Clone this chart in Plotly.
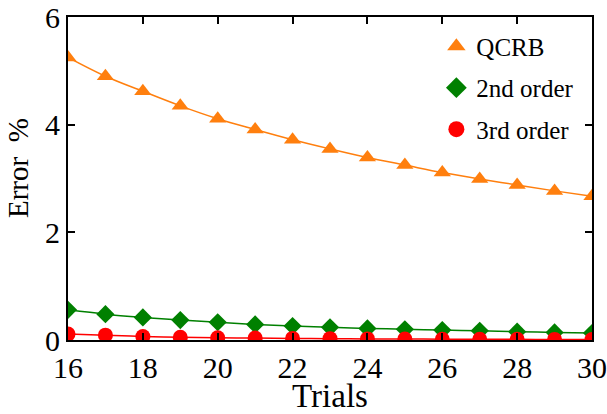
import plotly.graph_objects as go

trials = [16, 17, 18, 19, 20, 21, 22, 23, 24, 25, 26, 27, 28, 29, 30]
qcrb = [5.25, 4.90, 4.62, 4.35, 4.11, 3.91, 3.72, 3.55, 3.39, 3.25, 3.11, 2.99, 2.88, 2.77, 2.67]
second_order = [0.56, 0.48, 0.42, 0.37, 0.33, 0.29, 0.26, 0.235, 0.215, 0.20, 0.185, 0.17, 0.155, 0.14, 0.13]
third_order = [0.11, 0.09, 0.065, 0.05, 0.04, 0.035, 0.03, 0.025, 0.02, 0.018, 0.015, 0.013, 0.012, 0.011, 0.01]

x_ticks = [16, 18, 20, 22, 24, 26, 28, 30]
y_ticks = [0, 2, 4, 6]

ORANGE = "#ff7f0e"
GREEN = "#008000"
RED = "#ff0000"
FONT = "Liberation Serif"

fig = go.Figure()

series = [
    ("QCRB", qcrb, ORANGE, "triangle-up", 15),
    ("2nd order", second_order, GREEN, "diamond", 14),
    ("3rd order", third_order, RED, "circle", 15),
]

for name, vals, col, sym, sz in series:
    fig.add_trace(go.Scatter(
        x=trials, y=vals, mode="lines", line=dict(color=col, width=1.5, shape="spline"),
        showlegend=False, hoverinfo="skip", cliponaxis=False))

for name, vals, col, sym, sz in series:
    fig.add_trace(go.Scatter(
        x=trials, y=vals, mode="markers", name=name, showlegend=False,
        marker=dict(symbol=sym, size=sz, color=col, line=dict(width=0)),
        cliponaxis=True))

# legend-only entries with larger symbols
for name, vals, col, sym, sz in series:
    fig.add_trace(go.Scatter(
        x=[None], y=[None], mode="markers", name=name, legendgroup=name,
        marker=dict(symbol=sym, size=16, color=col, line=dict(width=0))))

fig.update_layout(
    width=607, height=414,
    margin=dict(l=68, r=15, t=17, b=74, autoexpand=False),
    paper_bgcolor="white", plot_bgcolor="white",
    font=dict(family=FONT, color="black", size=24),
    legend=dict(
        x=0.703, y=0.98, xanchor="left", yanchor="top",
        bgcolor="rgba(0,0,0,0)", font=dict(size=25, family=FONT),
        tracegroupgap=6, itemwidth=30, itemsizing="trace",
    ),
    showlegend=True,
    annotations=[dict(
        text="Error\u00a0\u00a0%", textangle=-90,
        xref="paper", yref="paper", x=0, y=0.5325,
        xanchor="center", yanchor="middle", xshift=-50, showarrow=False,
        font=dict(size=29, family=FONT, color="black"),
    )],
)

fig.update_xaxes(
    range=[16, 30], tickvals=x_ticks, ticktext=[str(v) for v in x_ticks],
    showgrid=False, zeroline=False, showline=True, linecolor="black", linewidth=2,
    mirror="ticks", ticks="inside", ticklen=7, tickwidth=1.5, tickcolor="black",
    tickfont=dict(size=30, family=FONT), automargin=False,
    title=dict(text="Trials", font=dict(size=33, family=FONT), standoff=2),
)
fig.update_yaxes(
    range=[0, 6], tickvals=y_ticks, ticktext=[str(v) for v in y_ticks],
    showgrid=False, zeroline=False, showline=True, linecolor="black", linewidth=2,
    mirror="ticks", ticks="inside", ticklen=7, tickwidth=1.5, tickcolor="black",
    tickfont=dict(size=30, family=FONT), automargin=False,
)

fig.write_html("out.html", config={"displayModeBar": False},
               post_script="document.body.style.margin='0';document.body.style.overflow='hidden';")
